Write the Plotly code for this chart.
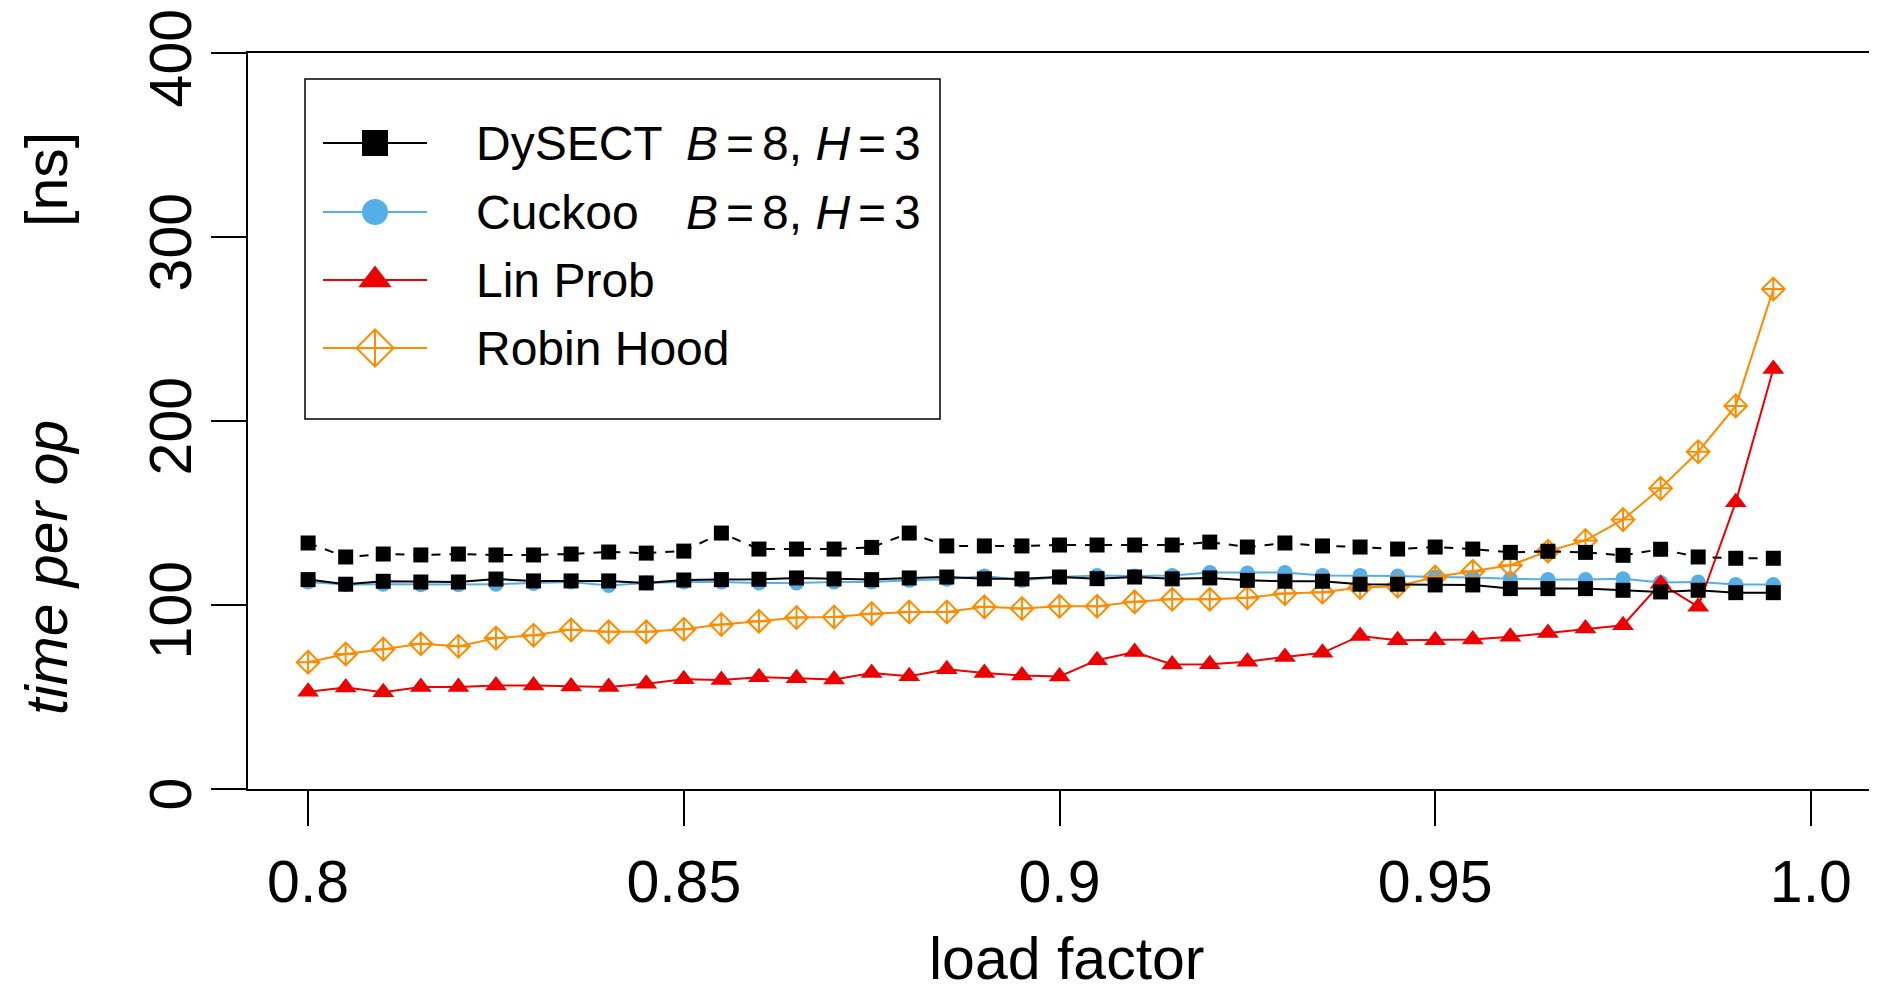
import plotly.graph_objects as go

# ---------------- data ----------------
load_factor = [round(0.8 + 0.005 * i, 3) for i in range(40)]

dysect = [113.8, 111.3, 112.9, 112.5, 112.5, 114.1, 113.1, 113.1, 113.1, 112.0,
          113.6, 113.8, 114.0, 114.7, 114.2, 113.8, 114.7, 115.2, 114.2, 114.2,
          115.2, 114.3, 115.2, 114.2, 114.7, 113.4, 112.9, 112.9, 111.3, 111.3,
          110.9, 110.9, 108.9, 108.9, 108.9, 108.0, 107.1, 108.0, 106.7, 106.7]

dysect_dashed = [133.7, 126.1, 127.7, 127.2, 127.7, 127.2, 127.2, 127.7, 128.8, 128.2,
                 129.3, 139.1, 130.4, 130.4, 130.4, 131.3, 139.1, 132.1, 132.1, 132.1,
                 132.6, 132.6, 132.6, 132.6, 134.2, 131.5, 133.7, 132.1, 131.5, 130.4,
                 131.5, 130.4, 128.6, 129.2, 128.6, 127.0, 130.3, 126.1, 125.4, 125.4]

cuckoo = [112.5, 111.1, 111.3, 111.1, 111.1, 111.3, 111.7, 112.5, 110.6, 112.0,
          112.5, 112.5, 112.0, 112.0, 112.5, 112.5, 113.4, 114.0, 115.8, 113.4,
          115.2, 116.1, 115.8, 116.1, 117.6, 117.4, 117.6, 116.1, 116.1, 115.8,
          115.2, 115.0, 114.3, 113.8, 113.8, 114.3, 112.2, 112.5, 111.1, 111.1]

lin_prob = [52.8, 55.2, 52.6, 55.4, 55.5, 56.3, 56.3, 55.7, 55.5, 57.2,
            59.7, 59.2, 60.8, 60.2, 59.5, 63.1, 61.3, 65.1, 63.1, 61.7,
            61.2, 70.0, 74.4, 67.7, 67.8, 69.1, 71.8, 74.0, 83.2, 80.9,
            80.9, 81.2, 82.7, 84.8, 87.2, 89.0, 111.6, 99.0, 155.9, 228.3]

robin_hood = [68.9, 73.4, 76.0, 78.9, 77.6, 82.0, 83.6, 86.5, 85.4, 85.4,
              86.8, 89.4, 91.2, 93.2, 93.5, 95.3, 96.2, 96.2, 99.0, 98.1,
              99.3, 99.3, 101.7, 103.1, 103.1, 104.0, 106.2, 106.9, 109.5, 110.2,
              115.2, 118.3, 121.6, 129.2, 135.1, 146.4, 163.4, 183.3, 208.2, 271.7]

x_tickvals = [0.8, 0.85, 0.9, 0.95, 1.0]
x_ticktext = ["0.8", "0.85", "0.9", "0.95", "1.0"]
y_tickvals = [0, 100, 200, 300, 400]

legend_names = ["DySECT", "Cuckoo", "Lin Prob", "Robin Hood"]
SP = "\u2006"
legend_params = [f"<i>B</i>{SP}={SP}8, <i>H</i>{SP}={SP}3",
                 f"<i>B</i>{SP}={SP}8, <i>H</i>{SP}={SP}3", "", ""]

# ---------------- styles ----------------
BLACK = "#000000"
BLUE = "#56AEE6"
RED = "#EE0000"
ORANGE = "#FF8C00"
FONT = "Liberation Sans, Arial, Helvetica, sans-serif"

# the page body has an 8px margin; lay out in page pixels and subtract it
OFF = 8
PAGE_W, PAGE_H = 1877, 992
W, H = PAGE_W - OFF, PAGE_H - OFF
PLOT_L, PLOT_R, PLOT_T, PLOT_B = 248, 1871, 53, 789   # page pixels
L = PLOT_L - OFF
T = PLOT_T - OFF
R = W - (PLOT_R - OFF)
B = H - (PLOT_B - OFF)
plot_w = W - L - R
plot_h = H - T - B


def px_x(p):
    return (p - PLOT_L) / plot_w


def px_y(p):
    return (PLOT_B - p) / plot_h


fig = go.Figure()

fig.add_trace(go.Scatter(
    x=load_factor, y=cuckoo, mode="lines+markers", showlegend=False,
    line=dict(color=BLUE, width=2),
    marker=dict(symbol="circle", size=15, color=BLUE, line=dict(width=0))))

fig.add_trace(go.Scatter(
    x=load_factor, y=robin_hood, mode="lines+markers", showlegend=False,
    line=dict(color=ORANGE, width=2),
    marker=dict(symbol="diamond-cross-open", size=17.5, color=ORANGE,
                line=dict(width=2, color=ORANGE))))

fig.add_trace(go.Scatter(
    x=load_factor, y=lin_prob, mode="lines+markers", showlegend=False,
    line=dict(color=RED, width=2),
    marker=dict(symbol="triangle-up", size=19, color=RED, line=dict(width=0))))

fig.add_trace(go.Scatter(
    x=load_factor, y=dysect_dashed, mode="lines+markers", showlegend=False,
    line=dict(color=BLACK, width=2, dash="dash"),
    marker=dict(symbol="square", size=15, color=BLACK, line=dict(width=0))))

fig.add_trace(go.Scatter(
    x=load_factor, y=dysect, mode="lines+markers", showlegend=False,
    line=dict(color=BLACK, width=2),
    marker=dict(symbol="square", size=15, color=BLACK, line=dict(width=0))))

# ---------------- hand-drawn legend (pixel overlay axes) ----------------
leg_colors = [BLACK, BLUE, RED, ORANGE]
leg_symbols = ["square", "circle", "triangle-up", "diamond-cross-open"]
leg_sizes = [26, 26, 29, 28.5]
leg_y = [143, 212, 280, 348]
for name, par, col, sym, sz, yy in zip(legend_names, legend_params, leg_colors,
                                        leg_symbols, leg_sizes, leg_y):
    fig.add_trace(go.Scatter(
        x=[323, 427], y=[yy, yy], mode="lines", xaxis="x2", yaxis="y2",
        showlegend=False, hoverinfo="skip", line=dict(color=col, width=2)))
    fig.add_trace(go.Scatter(
        x=[375], y=[yy], mode="markers", xaxis="x2", yaxis="y2",
        showlegend=False, hoverinfo="skip",
        marker=dict(symbol=sym, size=sz, color=col,
                    line=dict(width=2 if "open" in sym else 0, color=col))))
    fig.add_annotation(xref="paper", yref="paper", x=px_x(474), y=px_y(yy), text=name,
                       showarrow=False, xanchor="left", yanchor="middle",
                       font=dict(family=FONT, size=48, color=BLACK))
    if par:
        fig.add_annotation(xref="paper", yref="paper", x=px_x(684), y=px_y(yy), text=par,
                           showarrow=False, xanchor="left", yanchor="middle",
                           font=dict(family=FONT, size=48, color=BLACK))

fig.add_shape(type="rect", xref="paper", yref="paper",
              x0=px_x(305), x1=px_x(940), y0=px_y(79), y1=px_y(419),
              line=dict(color=BLACK, width=1.5), fillcolor="rgba(0,0,0,0)")

# axis titles
fig.add_annotation(xref="paper", yref="paper", x=px_x(1067), y=px_y(959),
                   text="load factor",
                   showarrow=False, xanchor="center", yanchor="middle",
                   font=dict(family=FONT, size=59, color=BLACK))
fig.add_annotation(xref="paper", yref="paper", x=px_x(47), y=px_y(568),
                   text="<i>time per op</i>",
                   showarrow=False, textangle=-90, xanchor="center", yanchor="middle",
                   font=dict(family=FONT, size=59, color=BLACK))
fig.add_annotation(xref="paper", yref="paper", x=px_x(47), y=px_y(180), text="[ns]",
                   showarrow=False, textangle=-90, xanchor="center", yanchor="middle",
                   font=dict(family=FONT, size=59, color=BLACK))

fig.update_layout(
    width=W, height=H,
    margin=dict(l=L, r=R, t=T, b=B, pad=0, autoexpand=False),
    paper_bgcolor="white", plot_bgcolor="white",
    showlegend=False,
    font=dict(family=FONT, color=BLACK),
    xaxis=dict(range=[0.792, 1.008], tickvals=x_tickvals, ticktext=x_ticktext,
               showline=True, mirror=True, linecolor=BLACK, linewidth=2,
               ticks="outside", ticklen=35, tickwidth=1.5, tickcolor=BLACK,
               tickfont=dict(family=FONT, size=59, color=BLACK),
               ticklabelstandoff=5, automargin=False, ticklabeloverflow="allow",
               showgrid=False, zeroline=False),
    yaxis=dict(range=[0, 400], tickvals=y_tickvals, tickangle=-90,
               showline=True, mirror=True, linecolor=BLACK, linewidth=2,
               ticks="outside", ticklen=35, tickwidth=1.5, tickcolor=BLACK,
               tickfont=dict(family=FONT, size=59, color=BLACK),
               ticklabelstandoff=-4, ticklabelshift=14,
               automargin=False, ticklabeloverflow="allow",
               showgrid=False, zeroline=False),
    xaxis2=dict(overlaying="x", anchor="y2", range=[PLOT_L, PLOT_R], visible=False,
                fixedrange=True, automargin=False),
    yaxis2=dict(overlaying="y", anchor="x2", range=[PLOT_B, PLOT_T], visible=False,
                fixedrange=True, automargin=False),
)

fig.write_html("out.html")
